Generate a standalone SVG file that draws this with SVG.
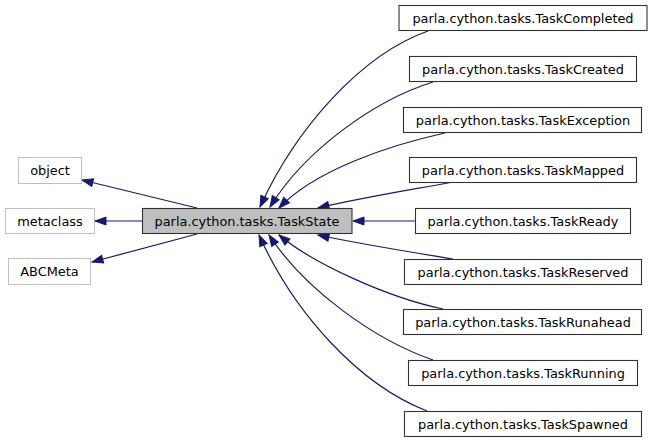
<svg xmlns="http://www.w3.org/2000/svg" width="652" height="443" viewBox="0 0 652 443">
<style>
  .n rect { fill: #ffffff; stroke: #333333; stroke-width: 1.1; }
  .n.u rect { stroke: #bfbfbf; stroke-width: 1; }
  .n.f rect { fill: #bfbfbf; }
  .n text { font-family: "DejaVu Sans", sans-serif; font-size: 12.9px; fill: #000000; text-anchor: middle; }
  .e path { fill: none; stroke: #191970; stroke-width: 1.2; marker-end: url(#ah); }
</style>
<defs>
  <marker id="ah" markerUnits="userSpaceOnUse" markerWidth="12" markerHeight="10" refX="0" refY="0" orient="auto" overflow="visible">
    <path d="M0,0 L-11,-4 L-11,4 z" fill="#191970" stroke="#191970" stroke-width="1"/>
  </marker>
</defs>
<g id="edges" class="e">
  <path d="M197,208 L82,180"/>
  <path d="M142,221 L95,221"/>
  <path d="M197,234 L92,262"/>
  <path d="M428,31 C360,55 295,130 260,207"/>
  <path d="M433,82 C375,100 305,150 270,207"/>
  <path d="M445,133 C390,145 315,170 279,208"/>
  <path d="M453,182 C410,190 360,198 318,208"/>
  <path d="M415,221 L353,221"/>
  <path d="M453,259 C410,252 360,244 318,235"/>
  <path d="M443,309 C390,298 315,265 279,235"/>
  <path d="M433,360 C375,340 305,290 269,235"/>
  <path d="M427,411 C360,385 295,315 259,235"/>
</g>
<g id="object" class="n u"><rect x="18.5" y="157.5" width="63" height="26"/><text x="50" y="175">object</text></g>
<g id="metaclass" class="n u"><rect x="5.5" y="208.5" width="89" height="25"/><text x="50" y="225.5">metaclass</text></g>
<g id="ABCMeta" class="n u"><rect x="8.5" y="258.5" width="82" height="26"/><text x="49.5" y="276">ABCMeta</text></g>
<g id="TaskState" class="n f"><rect x="142.5" y="208.5" width="209.5" height="25"/><text x="247" y="225.5">parla.cython.tasks.TaskState</text></g>
<g id="TaskCompleted" class="n"><rect x="399" y="5.5" width="248" height="25"/><text x="523" y="22.5">parla.cython.tasks.TaskCompleted</text></g>
<g id="TaskCreated" class="n"><rect x="409.5" y="56.5" width="227" height="25"/><text x="523" y="73.5">parla.cython.tasks.TaskCreated</text></g>
<g id="TaskException" class="n"><rect x="403.5" y="107.5" width="238" height="25"/><text x="523" y="124.5">parla.cython.tasks.TaskException</text></g>
<g id="TaskMapped" class="n"><rect x="409.5" y="157.5" width="227" height="25"/><text x="523" y="174.5">parla.cython.tasks.TaskMapped</text></g>
<g id="TaskReady" class="n"><rect x="415.5" y="208.5" width="215" height="25"/><text x="523" y="225.5">parla.cython.tasks.TaskReady</text></g>
<g id="TaskReserved" class="n"><rect x="404.5" y="259.5" width="237" height="25"/><text x="523" y="276.5">parla.cython.tasks.TaskReserved</text></g>
<g id="TaskRunahead" class="n"><rect x="403.5" y="309.5" width="238" height="25"/><text x="523" y="326.5">parla.cython.tasks.TaskRunahead</text></g>
<g id="TaskRunning" class="n"><rect x="408.5" y="360.5" width="229" height="25"/><text x="523" y="377.5">parla.cython.tasks.TaskRunning</text></g>
<g id="TaskSpawned" class="n"><rect x="404.5" y="411.5" width="237" height="25"/><text x="523" y="428.5">parla.cython.tasks.TaskSpawned</text></g>
</svg>
